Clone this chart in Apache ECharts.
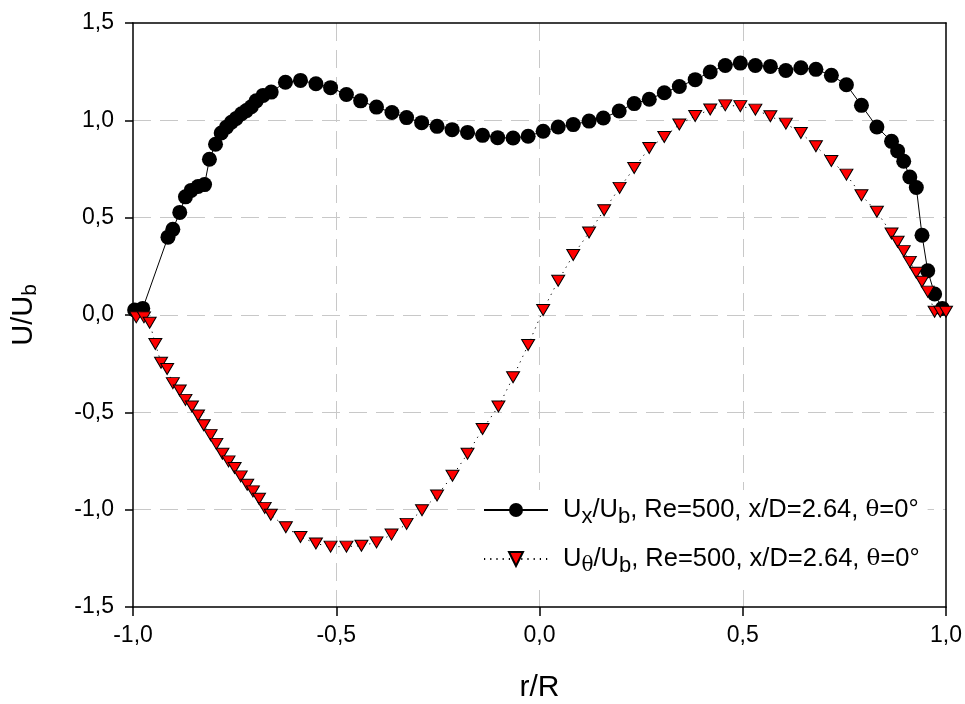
<!DOCTYPE html>
<html>
<head>
<meta charset="utf-8">
<script src="https://cdn.jsdelivr.net/npm/echarts@6/dist/echarts.min.js"></script>
<style>
html,body{margin:0;padding:0;background:#fff;}
#chart{width:965px;height:704px;}
</style>
</head>
<body>
<div id="chart"></div>
<script>
// r/R positions and U_x/U_b values (black circles)
var uxR = [-0.996, -0.976, -0.914, -0.902, -0.885, -0.871, -0.857, -0.840, -0.824, -0.812, -0.797, -0.783, -0.770, -0.758, -0.746, -0.733, -0.721, -0.709, -0.697, -0.680, -0.660, -0.625, -0.588, -0.550, -0.514, -0.475, -0.440, -0.401, -0.363, -0.327, -0.290, -0.252, -0.215, -0.177, -0.140, -0.103, -0.065, -0.028, 0.009, 0.046, 0.083, 0.122, 0.157, 0.196, 0.233, 0.270, 0.307, 0.344, 0.383, 0.420, 0.457, 0.494, 0.531, 0.568, 0.606, 0.643, 0.680, 0.718, 0.755, 0.792, 0.830, 0.866, 0.881, 0.896, 0.911, 0.927, 0.941, 0.955, 0.972, 0.991];
var uxVal = [0.026, 0.034, 0.400, 0.440, 0.527, 0.607, 0.640, 0.660, 0.670, 0.800, 0.877, 0.935, 0.965, 0.990, 1.010, 1.034, 1.050, 1.070, 1.100, 1.128, 1.145, 1.196, 1.205, 1.188, 1.168, 1.133, 1.100, 1.068, 1.040, 1.014, 0.988, 0.969, 0.952, 0.938, 0.923, 0.911, 0.909, 0.918, 0.944, 0.966, 0.978, 0.996, 1.012, 1.048, 1.086, 1.108, 1.142, 1.174, 1.209, 1.248, 1.282, 1.294, 1.282, 1.277, 1.256, 1.270, 1.262, 1.231, 1.183, 1.077, 0.966, 0.892, 0.843, 0.790, 0.709, 0.655, 0.410, 0.227, 0.108, 0.034];

// r/R positions and U_theta/U_b values (red triangles)
var utR = [-0.992, -0.973, -0.959, -0.945, -0.931, -0.916, -0.902, -0.885, -0.871, -0.855, -0.840, -0.826, -0.809, -0.795, -0.780, -0.765, -0.750, -0.735, -0.719, -0.705, -0.690, -0.676, -0.661, -0.624, -0.588, -0.550, -0.514, -0.475, -0.438, -0.401, -0.364, -0.327, -0.289, -0.252, -0.214, -0.177, -0.140, -0.101, -0.065, -0.028, 0.009, 0.046, 0.083, 0.122, 0.159, 0.197, 0.233, 0.270, 0.307, 0.344, 0.383, 0.420, 0.457, 0.494, 0.531, 0.568, 0.606, 0.643, 0.680, 0.718, 0.755, 0.792, 0.830, 0.866, 0.881, 0.896, 0.911, 0.927, 0.941, 0.955, 0.972, 0.986, 1.000];
var utVal = [-0.012, -0.012, -0.040, -0.149, -0.245, -0.277, -0.350, -0.388, -0.436, -0.470, -0.516, -0.566, -0.617, -0.662, -0.713, -0.752, -0.786, -0.829, -0.872, -0.906, -0.944, -0.991, -1.026, -1.090, -1.140, -1.174, -1.190, -1.190, -1.185, -1.168, -1.128, -1.073, -1.003, -0.927, -0.826, -0.713, -0.586, -0.470, -0.320, -0.154, 0.026, 0.176, 0.308, 0.424, 0.538, 0.653, 0.755, 0.858, 0.914, 0.979, 1.022, 1.056, 1.077, 1.073, 1.055, 1.021, 0.983, 0.935, 0.867, 0.791, 0.721, 0.615, 0.530, 0.419, 0.376, 0.328, 0.273, 0.217, 0.171, 0.120, 0.017, 0.017, 0.017];

// axis ticks
var xTicks = [-1.0, -0.5, 0.0, 0.5, 1.0];
var yTicks = [-1.5, -1.0, -0.5, 0.0, 0.5, 1.0, 1.5];

var seriesNames = ['ux', 'ut'];

function pairs(xs, ys) {
  var out = [];
  for (var i = 0; i < xs.length; i++) out.push([xs[i], ys[i]]);
  return out;
}
function commaFmt(v) { return v.toFixed(1).replace('.', ','); }

var FF = 'Liberation Sans, Arial, sans-serif';
var chart = echarts.init(document.getElementById('chart'), null, {renderer: 'canvas'});

var gridLine = {show: true, showMinLine: false, showMaxLine: false, lineStyle: {color: '#c8c8c8', width: 1, type: [18, 9]}};
var frameAxisLine = {show: true, onZero: false, lineStyle: {color: '#000', width: 1.5}};

var option = {
  animation: false,
  backgroundColor: '#ffffff',
  grid: {
    left: 133, right: 19, top: 23, bottom: 97,
    show: false,
    outerBoundsMode: 'none', containLabel: false
  },
  legend: {
    orient: 'vertical',
    left: 478, top: 490,
    padding: [7, 8, 12, 5],
    backgroundColor: '#ffffff',
    borderWidth: 0,
    itemWidth: 64, itemHeight: 17.5,
    itemGap: 18,
    data: seriesNames,
    selectedMode: false,
    z: 20,
    zlevel: 0,
    formatter: function (name) {
      var sub = name === 'ux' ? '{s|x}' : '{st|θ}';
      return '{p|U}' + sub + '{m|/U}{s|b}{m|, Re=500, x/D=2.64, }{t|θ}{m|=0°}';
    },
    textStyle: {
      color: '#000', fontFamily: FF, fontSize: 25.5,
      rich: {
        p: {color: '#000', fontFamily: FF, fontSize: 25.5, padding: [0, 0, 0, 10]},
        m: {color: '#000', fontFamily: FF, fontSize: 25.5},
        s: {color: '#000', fontFamily: FF, fontSize: 22, padding: [14, 0, 0, 0]},
        st: {color: '#000', fontFamily: 'DejaVu Serif, Liberation Serif, serif', fontSize: 20, padding: [14, 0, 0, 0]},
        t: {color: '#000', fontFamily: 'DejaVu Serif, Liberation Serif, serif', fontSize: 23}
      }
    }
  },
  xAxis: [{
    type: 'value',
    position: 'bottom',
    min: xTicks[0], max: xTicks[xTicks.length - 1], interval: 0.5,
    name: 'r/R',
    nameLocation: 'middle',
    nameGap: 66,
    nameTextStyle: {color: '#000', fontFamily: FF, fontSize: 30},
    axisLine: frameAxisLine,
    axisTick: {show: true, inside: false, length: 9, lineStyle: {color: '#000', width: 1.5}},
    axisLabel: {color: '#000', fontFamily: FF, fontSize: 23, margin: 17, formatter: commaFmt},
    splitLine: gridLine,
    z: 5
  }, {
    type: 'value',
    position: 'top',
    min: xTicks[0], max: xTicks[xTicks.length - 1], interval: 0.5,
    axisLine: frameAxisLine,
    axisTick: {show: false},
    axisLabel: {show: false},
    splitLine: {show: false},
    z: 5
  }],
  yAxis: [{
    type: 'value',
    position: 'left',
    min: yTicks[0], max: yTicks[yTicks.length - 1], interval: 0.5,
    name: '{a|U/U}{b|b}',
    nameLocation: 'middle',
    nameRotate: 90,
    nameGap: 92,
    nameTextStyle: {
      color: '#000', fontFamily: FF, fontSize: 29,
      rich: {
        a: {color: '#000', fontFamily: FF, fontSize: 29},
        b: {color: '#000', fontFamily: FF, fontSize: 21, padding: [14, 0, 0, 0]}
      }
    },
    axisLine: frameAxisLine,
    axisTick: {show: true, inside: false, length: 8, lineStyle: {color: '#000', width: 1.5}},
    axisLabel: {color: '#000', fontFamily: FF, fontSize: 23, margin: 19, formatter: commaFmt},
    splitLine: gridLine,
    z: 5
  }, {
    type: 'value',
    position: 'right',
    min: yTicks[0], max: yTicks[yTicks.length - 1], interval: 0.5,
    axisLine: frameAxisLine,
    axisTick: {show: false},
    axisLabel: {show: false},
    splitLine: {show: false},
    z: 5
  }],
  series: [
    {
      name: 'ux',
      type: 'line',
      data: pairs(uxR, uxVal),
      symbol: 'circle',
      symbolSize: 15,
      showSymbol: true,
      clip: false,
      itemStyle: {color: '#000', borderColor: '#000', borderWidth: 0},
      lineStyle: {color: '#000', width: 1, type: 'solid'},
      emphasis: {disabled: true},
      z: 6
    },
    {
      name: 'ut',
      type: 'line',
      data: pairs(utR, utVal),
      symbol: 'triangle',
      symbolSize: [13, 11],
      symbolRotate: 180,
      showSymbol: true,
      clip: false,
      itemStyle: {color: '#ff0000', borderColor: '#000', borderWidth: 1},
      lineStyle: {color: '#000', width: 1, type: [1.2, 5]},
      emphasis: {disabled: true},
      z: 7
    }
  ]
};
chart.setOption(option);
</script>
</body>
</html>
